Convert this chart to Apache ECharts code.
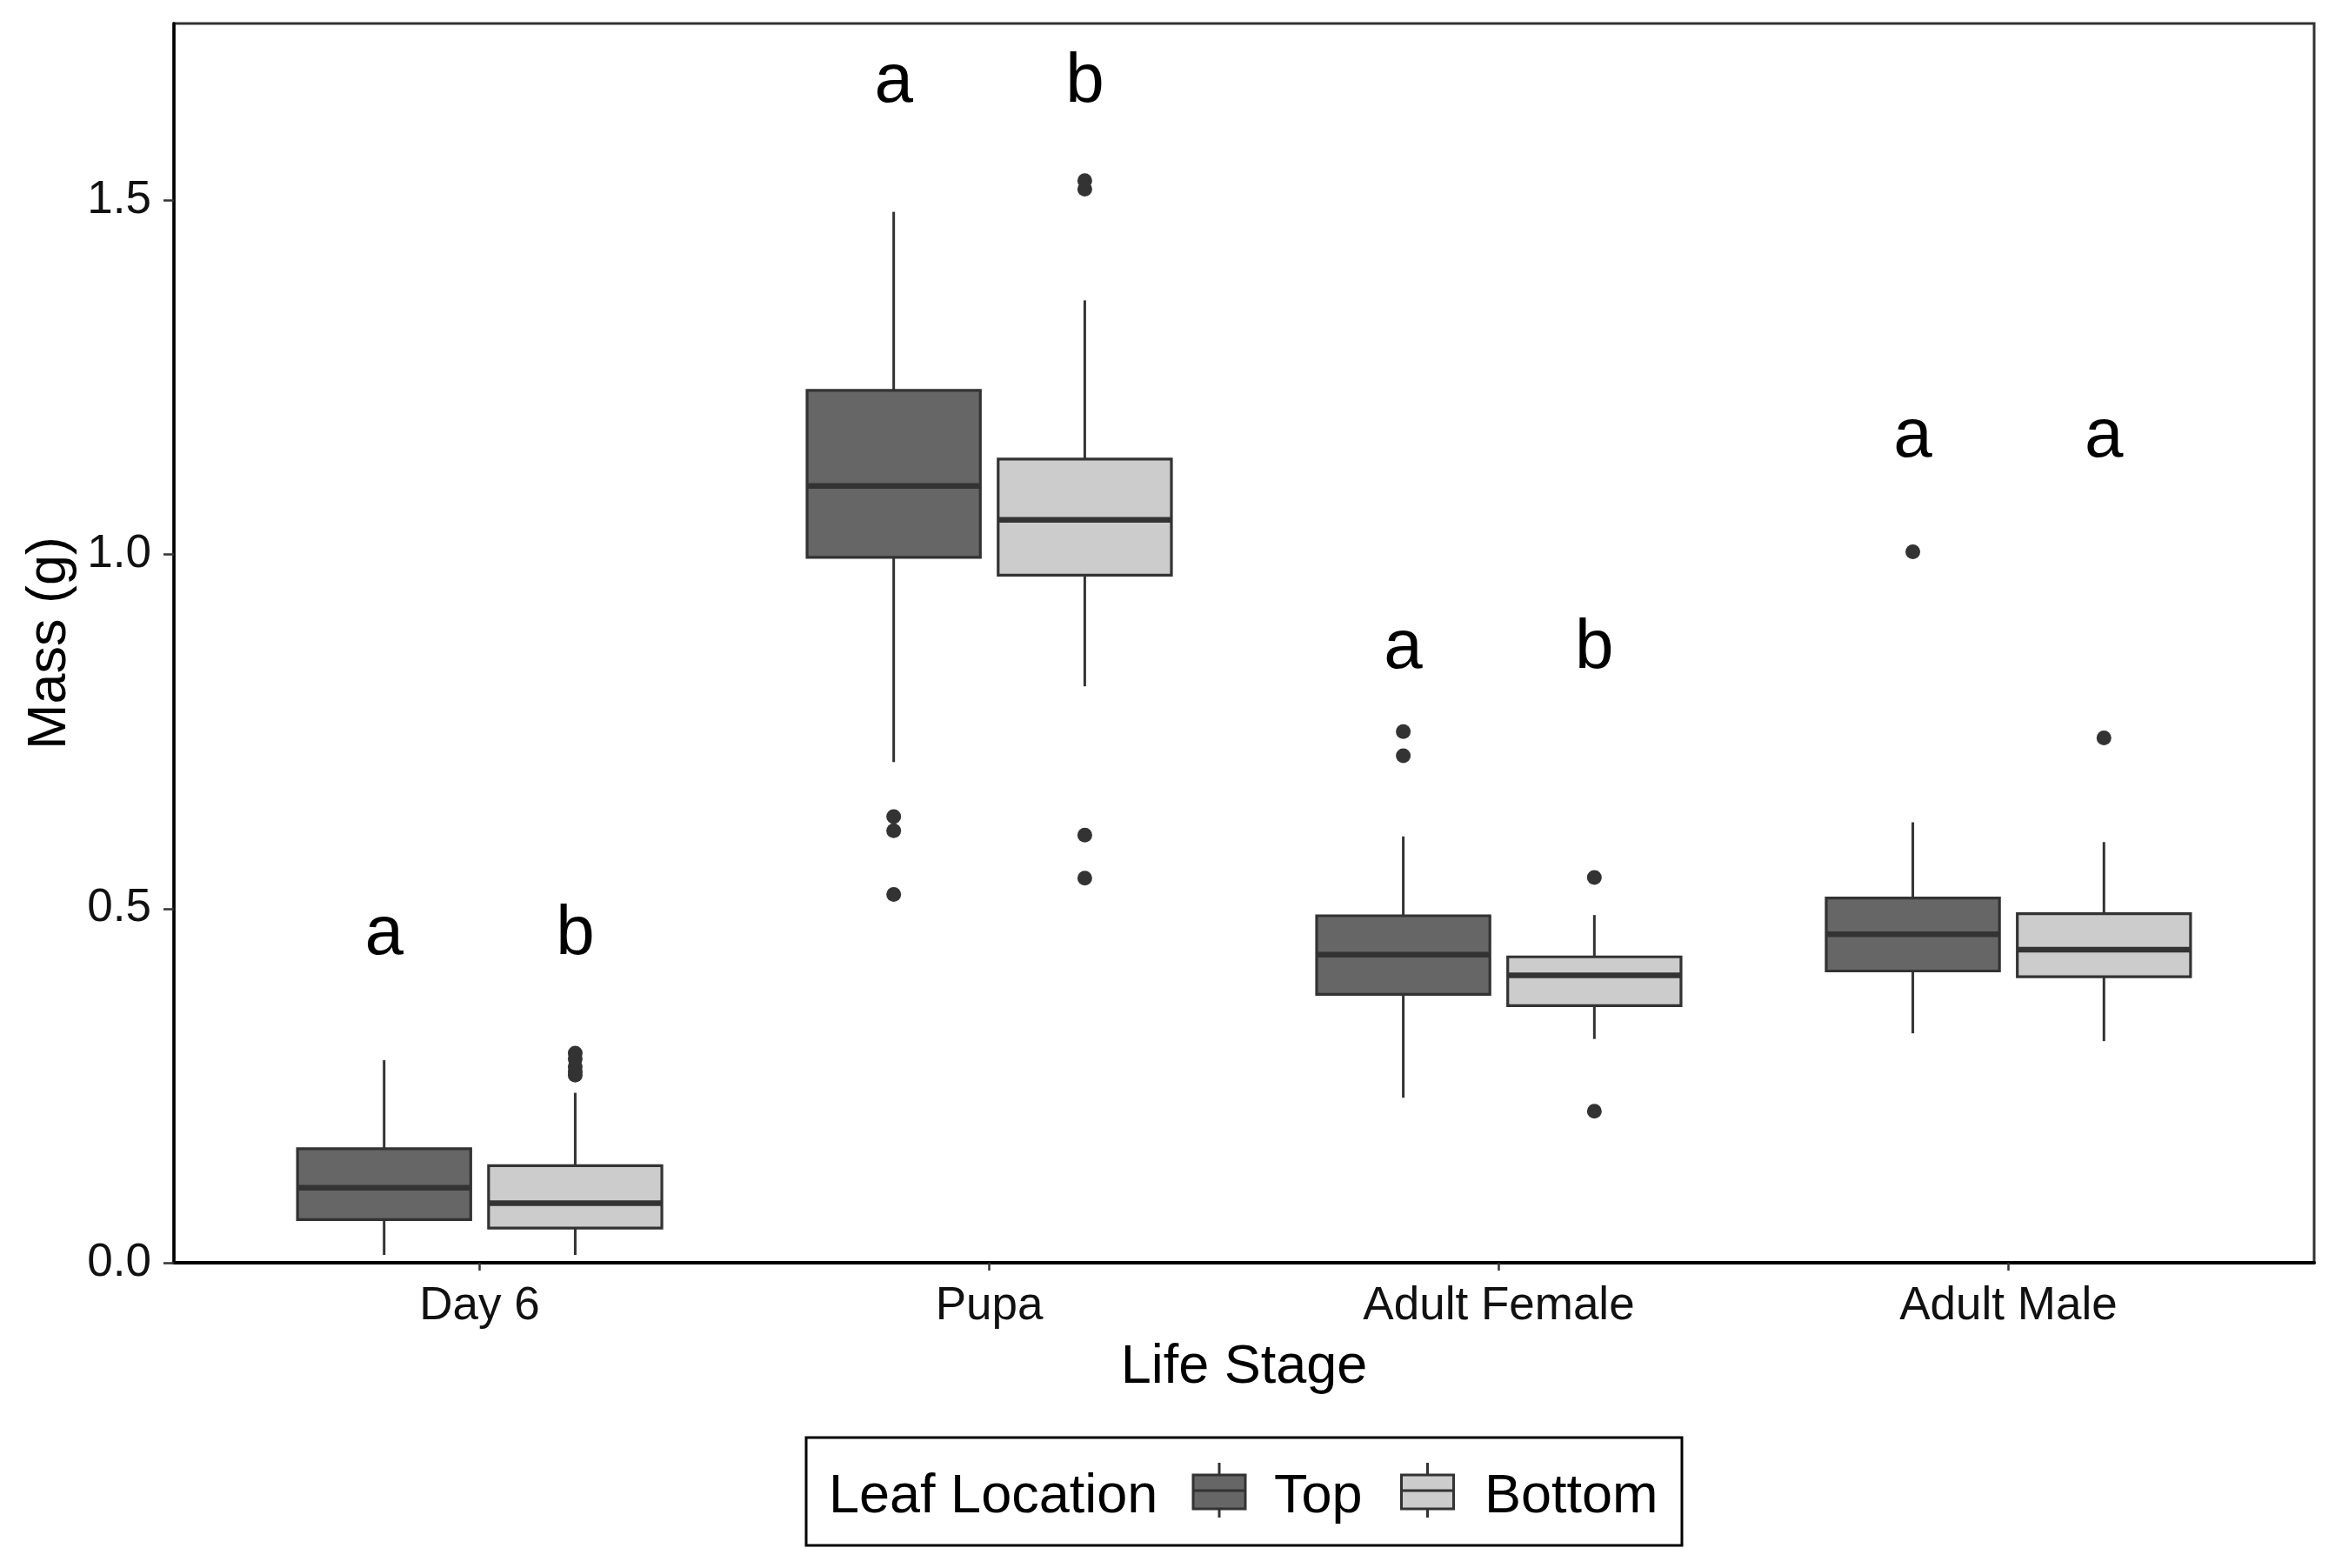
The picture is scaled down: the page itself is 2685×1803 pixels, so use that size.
<!DOCTYPE html>
<html><head><meta charset="utf-8">
<script src="https://cdn.jsdelivr.net/npm/echarts@6/dist/echarts.min.js"></script>
<style>html,body{margin:0;padding:0;background:#fff}#c{width:2685px;height:1803px}</style>
</head><body><div id="c"></div>
<script>
// ---- data ----
const categories = ['Day 6', 'Pupa', 'Adult Female', 'Adult Male'];
const groups = ['Top', 'Bottom'];
// [whisker low, Q1, median, Q3, whisker high]
const topStats = [
  [0.011, 0.061, 0.106, 0.161, 0.286],
  [0.707, 0.996, 1.097, 1.232, 1.484],
  [0.233, 0.379, 0.435, 0.490, 0.602],
  [0.324, 0.412, 0.464, 0.515, 0.622]
];
const bottomStats = [
  [0.011, 0.049, 0.084, 0.137, 0.240],
  [0.814, 0.971, 1.049, 1.135, 1.359],
  [0.316, 0.363, 0.406, 0.432, 0.491],
  [0.313, 0.404, 0.442, 0.493, 0.594]
];
const topOutliers = [
  [],
  [0.630, 0.610, 0.520],
  [0.750, 0.716],
  [1.004]
];
const bottomOutliers = [
  [0.296, 0.288, 0.277, 0.270, 0.265],
  [1.528, 1.516, 0.604, 0.543],
  [0.544, 0.214],
  [0.741]
];
const topLetters = ['a', 'a', 'a', 'a'];
const bottomLetters = ['b', 'b', 'b', 'a'];
const letterY = [0.433, 1.637, 0.838, 1.136];
const yTicks = [0, 0.5, 1.0, 1.5];
const xTicks = [0, 1, 2, 3];

// ---- styles ----
const FONT = "'Liberation Sans', Arial, sans-serif";
const DODGE = 0.1875, BOXW = 0.34;
const STROKE = '#333333';
const fills = { Top: '#666666', Bottom: '#CCCCCC' };
const offsets = { Top: -DODGE, Bottom: DODGE };

function boxRender(offset, fill) {
  return function (params, api) {
    const x = api.value(0) + offset;
    const lo = api.coord([x, api.value(1)]);
    const q1 = api.coord([x, api.value(2)]);
    const md = api.coord([x, api.value(3)]);
    const q3 = api.coord([x, api.value(4)]);
    const hi = api.coord([x, api.value(5)]);
    const hw = api.size([BOXW, 0])[0] / 2;
    const cx = q1[0];
    return { type: 'group', children: [
      { type: 'line', shape: { x1: cx, y1: hi[1], x2: cx, y2: q3[1] }, style: { stroke: STROKE, lineWidth: 3 } },
      { type: 'line', shape: { x1: cx, y1: q1[1], x2: cx, y2: lo[1] }, style: { stroke: STROKE, lineWidth: 3 } },
      { type: 'rect', shape: { x: cx - hw, y: q3[1], width: 2 * hw, height: q1[1] - q3[1] }, style: { fill: fill, stroke: STROKE, lineWidth: 3.2 } },
      { type: 'line', shape: { x1: cx - hw, y1: md[1], x2: cx + hw, y2: md[1] }, style: { stroke: STROKE, lineWidth: 6.5 } }
    ]};
  };
}
function letterRender(offset, letters) {
  return function (params, api) {
    const i = api.value(0);
    const p = api.coord([i + offset, api.value(1)]);
    return { type: 'text', x: p[0], y: p[1] - 24, style: {
      text: letters[params.dataIndex], font: '80px ' + FONT, fill: '#000',
      align: 'center', verticalAlign: 'middle' } };
  };
}

const statsByGroup = { Top: topStats, Bottom: bottomStats };
const outByGroup = { Top: topOutliers, Bottom: bottomOutliers };
const lettersByGroup = { Top: topLetters, Bottom: bottomLetters };

const series = [];
groups.forEach(g => {
  series.push({
    name: g, type: 'custom', renderItem: boxRender(offsets[g], fills[g]),
    encode: { x: 0, y: [1, 2, 3, 4, 5] },
    data: statsByGroup[g].map((s, i) => [i].concat(s)), z: 2
  });
  series.push({
    name: g, type: 'scatter', symbolSize: 17, itemStyle: { color: STROKE, opacity: 1 },
    data: outByGroup[g].flatMap((arr, i) => arr.map(v => [i + offsets[g], v])), z: 3
  });
  series.push({
    name: g + ' letters', type: 'custom', renderItem: letterRender(offsets[g], lettersByGroup[g]),
    encode: { x: 0, y: 1 },
    data: letterY.map((y, i) => [i, y]), z: 4
  });
});

// legend keys
function legendKey(cx, fill) {
  return { type: 'group', children: [
    { type: 'line', shape: { x1: cx, y1: 1682, x2: cx, y2: 1745 }, style: { stroke: STROKE, lineWidth: 3 } },
    { type: 'rect', shape: { x: cx - 30, y: 1696, width: 60, height: 39 }, style: { fill: fill, stroke: STROKE, lineWidth: 3 } },
    { type: 'line', shape: { x1: cx - 30, y1: 1714, x2: cx + 30, y2: 1714 }, style: { stroke: STROKE, lineWidth: 3 } }
  ]};
}
const legendText = (t, x) => ({ type: 'text', x: x, y: 1722, style: { text: t, font: '63px ' + FONT, fill: '#000', align: 'left', verticalAlign: 'middle' } });

const chart = echarts.init(document.getElementById('c'));
chart.setOption({
  animation: false,
  backgroundColor: '#fff',
  grid: { left: 200, right: 24, top: 27, bottom: 351, show: true, borderColor: STROKE, borderWidth: 3, containLabel: false, outerBoundsMode: 'none' },
  xAxis: {
    type: 'value', min: -0.6, max: 3.6,
    axisLine: { show: true, onZero: false, lineStyle: { color: '#000', width: 4 } },
    axisTick: { show: true, customValues: xTicks, length: 9, lineStyle: { color: STROKE, width: 2.5 } },
    axisLabel: { customValues: xTicks, formatter: v => categories[Math.round(v)], fontSize: 53, fontFamily: FONT, color: '#111', margin: 24 },
    splitLine: { show: false },
    name: 'Life Stage', nameLocation: 'middle', nameGap: 89,
    nameTextStyle: { fontSize: 63, fontFamily: FONT, color: '#000' }
  },
  yAxis: {
    type: 'value', min: 0, max: 1.75,
    axisLine: { show: true, onZero: false, lineStyle: { color: '#000', width: 3.5 } },
    axisTick: { show: true, customValues: yTicks, length: 12, lineStyle: { color: STROKE, width: 2.5 } },
    axisLabel: { customValues: yTicks, formatter: v => v.toFixed(1), fontSize: 53, fontFamily: FONT, color: '#111', margin: 26 },
    splitLine: { show: false },
    name: 'Mass (g)', nameLocation: 'middle', nameGap: 108, nameRotate: 90,
    nameTextStyle: { fontSize: 63, fontFamily: FONT, color: '#000' }
  },
  series: series,
  graphic: [
    { type: 'rect', shape: { x: 927, y: 1653, width: 1007, height: 124 }, style: { fill: '#fff', stroke: '#000', lineWidth: 3 } },
    legendText('Leaf Location', 953),
    legendKey(1402, fills.Top),
    legendText(groups[0], 1465),
    legendKey(1641.5, fills.Bottom),
    legendText(groups[1], 1707)
  ]
});
</script></body></html>
